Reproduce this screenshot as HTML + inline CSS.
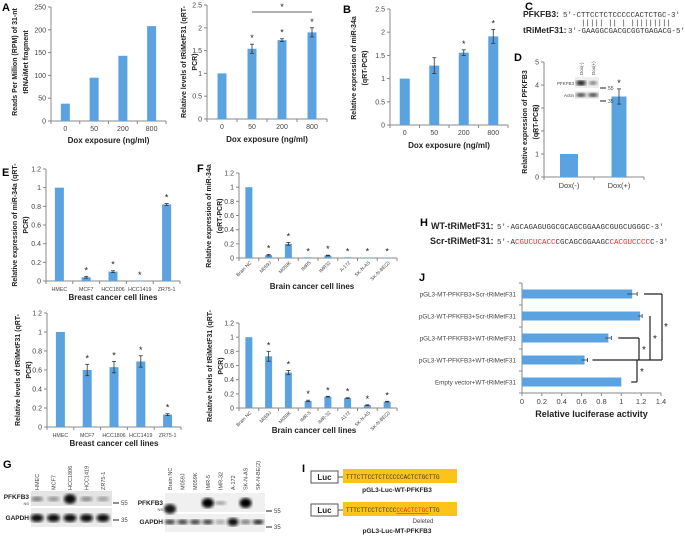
<!DOCTYPE html>
<html><head><meta charset="utf-8"><style>
html,body{margin:0;padding:0;background:#fff}
svg{display:block;font-family:"Liberation Sans",Arial,sans-serif}
.t{font-size:7px;fill:#444}
.tb{font-size:8px;font-weight:bold;fill:#222}
.yl{font-size:7px;font-weight:bold;fill:#222}
.pl{font-size:11px;font-weight:bold;fill:#000}
.mono{font-family:"Liberation Mono",monospace;font-size:7.5px;fill:#333}
</style></head><body>
<svg id="fig" width="685" height="540" viewBox="0 0 685 540">
<defs><filter id="bl"><feGaussianBlur stdDeviation="1.5"/></filter></defs>
<g id="charts"></g>
<text class="pl" x="2" y="11">A</text>
<text class="pl" x="343" y="13">B</text>
<text class="pl" x="525" y="10">C</text>
<text class="pl" x="514" y="61">D</text>
<text class="pl" x="2" y="176">E</text>
<text class="pl" x="197" y="172">F</text>
<text class="pl" x="3" y="468">G</text>
<text class="pl" x="420" y="226">H</text>
<text class="pl" x="302" y="472">I</text>
<text class="pl" x="419" y="281">J</text>
<g>
<text x="523" y="17" class="yl" style="font-size:8.5px">PFKFB3:</text>
<text x="563" y="17" class="mono">5′-CTTCCTCTCCCCCACTCTGC-3′</text>
<text x="581" y="25" class="mono">||||| || | |||||||||</text>
<text x="523" y="33" class="yl" style="font-size:8.5px">tRiMetF31:</text>
<text x="568" y="33" class="mono">3′-GAAGGCGACGCGGTGAGACG-5′</text>
</g>
<g>
<text x="431" y="229" class="yl" style="font-size:9px">WT-tRiMetF31:</text>
<text x="497" y="229" class="mono">5′-AGCAGAGUGGCGCAGCGGAAGCGUGCUGGGC-3′</text>
<text x="430" y="244" class="yl" style="font-size:9px">Scr-tRiMetF31:</text>
<text x="497" y="244" class="mono">5′-A<tspan fill="#e03030">CGUCUCACC</tspan>CGCAGCGGAAGC<tspan fill="#e03030">CACGUCCCC</tspan>C-3′</text>
</g>
<g>
<rect x="311" y="471" width="27" height="12" fill="#fff" stroke="#555"/>
<text x="324.5" y="480" text-anchor="middle" class="yl" style="font-size:8px">Luc</text>
<line x1="338" y1="477" x2="343" y2="477" stroke="#555"/>
<rect x="343" y="469" width="114" height="14" fill="#fcc419"/>
<text x="346" y="479" class="mono" style="font-size:6px">TTTCTTCCTCTCCCCCACTCTGCTTG</text>
<text x="397" y="492" text-anchor="middle" class="t" style="font-weight:bold;fill:#222;font-size:6.5px">pGL3-Luc-WT-PFKFB3</text>
<rect x="311" y="504" width="27" height="12" fill="#fff" stroke="#555"/>
<text x="324.5" y="513" text-anchor="middle" class="yl" style="font-size:8px">Luc</text>
<line x1="338" y1="510" x2="343" y2="510" stroke="#555"/>
<rect x="343" y="502" width="114" height="14" fill="#fcc419"/>
<text x="346" y="512" class="mono" style="font-size:6px">TTTCTTCCTCTCCC<tspan fill="#e03030" text-decoration="underline">CCACTCTGC</tspan>TTG</text>
<text x="423" y="523" text-anchor="middle" class="t" style="font-size:6px">Deleted</text>
<text x="397" y="533" text-anchor="middle" class="t" style="font-weight:bold;fill:#222;font-size:6.5px">pGL3-Luc-MT-PFKFB3</text>
</g>
<g id="blots"></g>
<g>
<rect x="575" y="77" width="24" height="11" fill="#eee"/>
<ellipse cx="581" cy="83" rx="5" ry="2.5" fill="#111" filter="url(#bl)"/>
<ellipse cx="593" cy="83" rx="4" ry="1.8" fill="#666" filter="url(#bl)"/>
<rect x="575" y="91" width="24" height="8" fill="#eee"/>
<ellipse cx="581" cy="95" rx="5" ry="1.8" fill="#222" filter="url(#bl)"/>
<ellipse cx="593" cy="95" rx="5" ry="1.8" fill="#222" filter="url(#bl)"/>
<text x="574" y="85" text-anchor="end" class="t" style="font-size:4.5px">PFKFB3</text>
<text x="574" y="97" text-anchor="end" class="t" style="font-size:4.5px">Actin</text>
<text transform="translate(583,75) rotate(-90)" class="t" style="font-size:4.5px">Dox(-)</text>
<text transform="translate(595,75) rotate(-90)" class="t" style="font-size:4.5px">Dox(+)</text>
<line x1="600" y1="88" x2="606" y2="88" stroke="#222"/><text x="608" y="90" class="t" style="font-size:5px">55</text>
<line x1="600" y1="101" x2="606" y2="101" stroke="#222"/><text x="608" y="103" class="t" style="font-size:5px">35</text>
</g>
</svg>
<script>
const doseCats = ["0","50","200","800"];
const aValues = [38,95,143,208];
const a2Values = [1,1.54,1.73,1.9];
const a2Err = [0,0.1,0.03,0.1];
const bValues = [1,1.28,1.56,1.91];
const bErr = [0,0.17,0.06,0.15];
const dCats = ["Dox(-)","Dox(+)"];
const dValues = [1,3.5];
const dErr = [0,0.33];
const breastCats = ["HMEC","MCF7","HCC1806","HCC1419","ZR75-1"];
const eTopValues = [1,0.04,0.1,0.0,0.82];
const eTopErr = [0,0.01,0.01,0,0.01];
const eBotValues = [1,0.6,0.63,0.69,0.13];
const eBotErr = [0,0.06,0.06,0.06,0.01];
const brainCats = ["Brain NC","M059J","M059K","IMR5","IMR32","A-172","SK-N-AS","SK-N-BE(2)"];
const fTopValues = [1,0.04,0.2,0.01,0.035,0.01,0.005,0.005];
const fTopErr = [0,0.01,0.02,0,0.005,0,0,0];
const fBotCats = ["Brain NC","M059J","M059K","IMR-5","IMR-32","A172","SK-N-AS","SK-N-BE(2)"];
const fBotValues = [1,0.73,0.5,0.1,0.16,0.14,0.04,0.09];
const fBotErr = [0,0.07,0.03,0.01,0.005,0.005,0.005,0.005];
const jCats = ["pGL3-MT-PFKFB3+Scr-tRiMetF31","pGL3-WT-PFKFB3+Scr-tRiMetF31","pGL3-MT-PFKFB3+WT-tRiMetF31","pGL3-WT-PFKFB3+WT-tRiMetF31","Empty vector+WT-tRiMetF31"];
const jValues = [1.11,1.19,0.87,0.63,1.0];
const jErr = [0.05,0.02,0.03,0.03,0];
const jTicks = [0,0.2,0.4,0.6,0.8,1,1.2,1.4];

const NS="http://www.w3.org/2000/svg";
const root=document.getElementById('charts');
function mk(tag,attrs,parent,text){const e=document.createElementNS(NS,tag);for(const k in attrs)e.setAttribute(k,attrs[k]);if(text!==undefined)e.textContent=text;(parent||root).appendChild(e);return e;}
const BLUE="#5ba3e0";

function vchart(o){
  const g=mk('g',{});
  
  
  const y=v=>o.y0-(v/o.max)*(o.y0-o.yTop);
  const n=o.cats.length, step=(o.xEnd-o.x0)/n;
  const cx=i=>o.x0+step*(i+0.5);
  const ax=mk('line',{x1:o.x0,y1:o.yTop,x2:o.x0,y2:o.y0,stroke:'#888'},g);
  
  
  mk('line',{x1:o.x0,y1:o.y0,x2:o.xEnd,y2:o.y0,stroke:'#888'},g);
  for(let t=0;t<=o.max+1e-9;t+=o.tick){
    mk('line',{x1:o.x0-3,y1:y(t),x2:o.x0,y2:y(t),stroke:'#888'},g);
    const tl=mk('text',{x:o.x0-5,y:y(t)+2.5,'text-anchor':'end',class:'t'},g,String(+t.toFixed(2)));
    
    
  }
  for(let i=0;i<=n;i++) mk('line',{x1:o.x0+step*i,y1:o.y0,x2:o.x0+step*i,y2:o.y0+3,stroke:'#888'},g);
  o.vals.forEach((v,i)=>{
    const w=o.bw[i]!==undefined?o.bw[i]:o.bw;
    const b=mk('rect',{x:cx(i)-w/2,y:y(v),width:w,height:Math.max(0.5,o.y0-y(v)),fill:BLUE},g);
    
    
    let top=y(v);
    if(o.err&&o.err[i]>0){
      const e=o.err[i];top=y(v+e);
      mk('line',{x1:cx(i),y1:y(v+e),x2:cx(i),y2:y(v-e),stroke:'#333','stroke-width':0.8},g);
      mk('line',{x1:cx(i)-2,y1:y(v+e),x2:cx(i)+2,y2:y(v+e),stroke:'#333','stroke-width':0.8},g);
      mk('line',{x1:cx(i)-2,y1:y(v-e),x2:cx(i)+2,y2:y(v-e),stroke:'#333','stroke-width':0.8},g);
    }
    if(o.stars&&o.stars[i]){const s=mk('text',{x:cx(i),y:top-3,'text-anchor':'middle',class:'t',style:'font-size:9px;fill:#222'},g,'*');
      }
    if(o.rot){
      const l=mk('text',{transform:`translate(${cx(i)+3},${o.y0+5}) rotate(-45)`,'text-anchor':'end',class:'t',style:'font-size:4.8px'},g,o.cats[i]);
      
    } else {
      const l=mk('text',{x:cx(i),y:o.y0+(o.lblOff||10),'text-anchor':'middle',class:'t',style:o.lblStyle||''},g,o.cats[i]);
      
    }
  });
  if(o.xtitle){const t=mk('text',{x:o.titleX||(o.x0+o.xEnd)/2,y:o.titleY,'text-anchor':'middle',class:'tb'},g,o.xtitle);
    }
  o.ylab.forEach((s,k)=>{const t=mk('text',{transform:`translate(${o.ylx[k]},${o.ylc}) rotate(-90)`,'text-anchor':'middle',class:'yl'},g,s);
    });
  return {g,y,cx};
}

vchart({name:'chart-a',cats:doseCats,vals:aValues,max:250,tick:50,x0:51,xEnd:166,y0:121,yTop:7,bw:9,
  xtitle:'Dox exposure (ng/ml)',titleY:143,ylab:['Reads Per Million (RPM) of 31-nt','tRNAiMet fragment'],ylx:[17,28],ylc:62});
const a2=vchart({name:'chart-a2',cats:doseCats,vals:a2Values,err:a2Err,stars:[0,1,1,1],max:2.5,tick:0.5,x0:207,xEnd:327,y0:119,yTop:5,bw:9,
  xtitle:'Dox exposure (ng/ml)',titleY:142,ylab:['Relative levels of tRiMetF31 (qRT-','PCR)'],ylx:[186,197],ylc:62});
mk('line',{x1:a2.cx(1),y1:12,x2:a2.cx(3),y2:12,stroke:'#333','stroke-width':0.8},a2.g);
mk('text',{x:(a2.cx(1)+a2.cx(3))/2,y:10,'text-anchor':'middle',class:'t',style:'font-size:9px;fill:#222'},a2.g,'*');
vchart({name:'chart-b',cats:doseCats,vals:bValues,err:bErr,stars:[0,0,1,1],max:2.5,tick:0.5,x0:390,xEnd:508,y0:125,yTop:9,bw:10,
  xtitle:'Dox exposure (ng/ml)',titleY:148,ylab:['Relative expression of miR-34a','(qRT-PCR)'],ylx:[356,367],ylc:68});
vchart({name:'chart-d',cats:dCats,vals:dValues,err:dErr,stars:[0,1],max:5,tick:1,x0:544,xEnd:644,y0:177,yTop:62,bw:[18,15],
  ylab:['Relative expression of PFKFB3','(qRT-PCR)'],ylx:[527,538],ylc:122,lblOff:11,lblStyle:'font-size:7.5px'});
vchart({name:'chart-e-mir34a',cats:breastCats,vals:eTopValues,err:eTopErr,stars:[0,1,1,1,1],max:1.2,tick:0.2,x0:46,xEnd:180,y0:281,yTop:169,bw:9,
  xtitle:'Breast cancer cell lines',titleY:300,ylab:['Relative expression of miR-34a (qRT-','PCR)'],ylx:[17,28],ylc:225,lblStyle:'font-size:5.3px'});
vchart({name:'chart-e-trimetf31',cats:breastCats,vals:eBotValues,err:eBotErr,stars:[0,1,1,1,1],max:1.2,tick:0.2,x0:47,xEnd:181,y0:427,yTop:313,bw:9,
  xtitle:'Breast cancer cell lines',titleY:446,ylab:['Relative levels of tRiMetF31 (qRT-','PCR)'],ylx:[20,31],ylc:370,lblStyle:'font-size:5.3px'});
vchart({name:'chart-f-mir34a',cats:brainCats,vals:fTopValues,err:fTopErr,stars:[0,1,1,1,1,1,1,1],max:1.2,tick:0.2,x0:239,xEnd:397,y0:258,yTop:173,bw:7,rot:true,
  xtitle:'Brain cancer cell lines',titleY:289,titleX:312,ylab:['Relative expression of miR-34a','(qRT-PCR)'],ylx:[211,222],ylc:216});
vchart({name:'chart-f-trimetf31',cats:fBotCats,vals:fBotValues,err:fBotErr,stars:[0,1,1,1,1,1,1,1],max:1.2,tick:0.2,x0:239,xEnd:397,y0:408,yTop:323,bw:7,rot:true,
  xtitle:'Brain cancer cell lines',titleY:433,titleX:314,ylab:['Relative levels of tRiMetF31 (qRT-','PCR)'],ylx:[212,223],ylc:366});

(function(){
  const g=mk('g',{});
  
  
  const x0=522,xMax=1.4,x1=661,yT=283,yB=393;
  const x=v=>x0+v/xMax*(x1-x0);
  const n=jCats.length,step=(yB-yT)/n;
  const cy=i=>yT+step*(i+0.5);
  mk('line',{x1:x0,y1:yT,x2:x0,y2:yB,stroke:'#888'},g);
  mk('line',{x1:x0,y1:yB,x2:x1,y2:yB,stroke:'#888'},g);
  for(let i=0;i<=n;i++) mk('line',{x1:x0-3,y1:yT+step*i,x2:x0,y2:yT+step*i,stroke:'#888'},g);
  jTicks.forEach(t=>{mk('line',{x1:x(t),y1:yB,x2:x(t),y2:yB+3,stroke:'#888'},g);
    const l=mk('text',{x:x(t),y:yB+11,'text-anchor':'middle',class:'t',style:'font-size:7.5px'},g,String(t));
    });
  jValues.forEach((v,i)=>{
    const b=mk('rect',{x:x0,y:cy(i)-4.5,width:x(v)-x0,height:9,fill:BLUE},g);
    
    
    if(jErr[i]>0){const e=jErr[i];
      mk('line',{x1:x(v-e),y1:cy(i),x2:x(v+e),y2:cy(i),stroke:'#333','stroke-width':0.8},g);
      mk('line',{x1:x(v+e),y1:cy(i)-2,x2:x(v+e),y2:cy(i)+2,stroke:'#333','stroke-width':0.8},g);}
    const l=mk('text',{x:x0-6,y:cy(i)+2.5,'text-anchor':'end',class:'t',style:'font-size:6.3px'},g,jCats[i]);
    
  });
  const t=mk('text',{x:(x0+x1)/2,y:417,'text-anchor':'middle',class:'tb',style:'font-size:9px'},g,'Relative luciferase activity');
  
  const L=(a,b,c,d)=>mk('line',{x1:a,y1:b,x2:c,y2:d,stroke:'#222','stroke-width':1.2},g);
  const S=(a,b)=>mk('text',{x:a,y:b,class:'t',style:'font-size:10px;fill:#222'},g,'*');
  const r3=cy(3);
  L(x(jValues[0]+0.12),cy(0),662,cy(0)); L(662,cy(0),662,r3); S(664,330);
  L(x(jValues[1]+0.1),cy(1),650,cy(1)); L(650,cy(1),650,r3); S(653,342);
  L(x(jValues[2]+0.1),cy(2),639,cy(2)); L(639,cy(2),639,r3); S(642,353);
  L(x(jValues[3]+0.08),r3,662,r3);
  L(637,r3,637,cy(4)); L(x(jValues[4]+0.1),cy(4),637,cy(4)); S(640,375);
})();

(function(){
  const g=document.getElementById('blots');
  const lanesL=["HMEC","MCF7","HCC1806","HCC1419","ZR75-1"];
  const lanesR=["Brain NC","M059J","M059K","IMR-5","IMR-32","A-172","SK-N-AS","SK-N-BE(2)"];
  mk('rect',{x:31,y:491,width:81,height:15,fill:'#e4e4e4'},g);
  mk('rect',{x:31,y:508,width:81,height:19,fill:'#ececec'},g);
  const lint=[0.45,0.35,0.95,0.4,0.3];
  lanesL.forEach((s,i)=>{const cx=37+i*16.5;
    mk('text',{transform:`translate(${cx+2},490) rotate(-90)`,class:'t',style:'font-size:5.5px'},g,s);
    mk('ellipse',{cx:cx,cy:499,rx:6,ry:lint[i]>0.8?5:2.5,fill:'#000',opacity:lint[i],filter:'url(#bl)'},g);
    mk('ellipse',{cx:cx,cy:518,rx:6.5,ry:4,fill:'#111',filter:'url(#bl)'},g);});
  mk('text',{x:29,y:499,'text-anchor':'end',class:'t',style:'font-size:6.5px;font-weight:bold;fill:#222'},g,'PFKFB3');
  mk('text',{x:29,y:505,'text-anchor':'end',class:'t',style:'font-size:4px'},g,'NS');
  mk('text',{x:29,y:520,'text-anchor':'end',class:'t',style:'font-size:6.5px;font-weight:bold;fill:#222'},g,'GAPDH');
  mk('line',{x1:113,y1:503,x2:119,y2:503,stroke:'#222'},g);mk('text',{x:121,y:505,class:'t',style:'font-size:6px'},g,'55');
  mk('line',{x1:113,y1:520,x2:119,y2:520,stroke:'#222'},g);mk('text',{x:121,y:522,class:'t',style:'font-size:6px'},g,'35');
  mk('rect',{x:165,y:493,width:100,height:19,fill:'#f0f0f0'},g);
  mk('rect',{x:165,y:514,width:100,height:18,fill:'#f0f0f0'},g);
  const rTop=[0.9,0,0,1,0.35,0,1,0], rG=[0.8,0.8,0.8,0.8,0.3,1,0.5,0.9];
  lanesR.forEach((s,i)=>{const cx=170+i*12.6;
    mk('text',{transform:`translate(${cx+2},490) rotate(-90)`,class:'t',style:'font-size:5.5px'},g,s);
    if(rTop[i]>0) mk('ellipse',{cx:cx,cy:i==0?509:503,rx:6,ry:rTop[i]>0.5?5:2,fill:'#000',opacity:rTop[i],filter:'url(#bl)'},g);
    mk('ellipse',{cx:cx,cy:522,rx:5.5,ry:rG[i]>0.95?4:2.5,fill:'#111',opacity:rG[i],filter:'url(#bl)'},g);});
  mk('text',{x:163,y:505,'text-anchor':'end',class:'t',style:'font-size:6.5px;font-weight:bold;fill:#222'},g,'PFKFB3');
  mk('text',{x:163,y:511,'text-anchor':'end',class:'t',style:'font-size:4px'},g,'NS');
  mk('text',{x:163,y:524,'text-anchor':'end',class:'t',style:'font-size:6.5px;font-weight:bold;fill:#222'},g,'GAPDH');
  mk('line',{x1:266,y1:511,x2:272,y2:511,stroke:'#222'},g);mk('text',{x:274,y:513,class:'t',style:'font-size:6px'},g,'55');
  mk('line',{x1:266,y1:527,x2:272,y2:527,stroke:'#222'},g);mk('text',{x:274,y:529,class:'t',style:'font-size:6px'},g,'35');
})();
</script>
</body></html>
